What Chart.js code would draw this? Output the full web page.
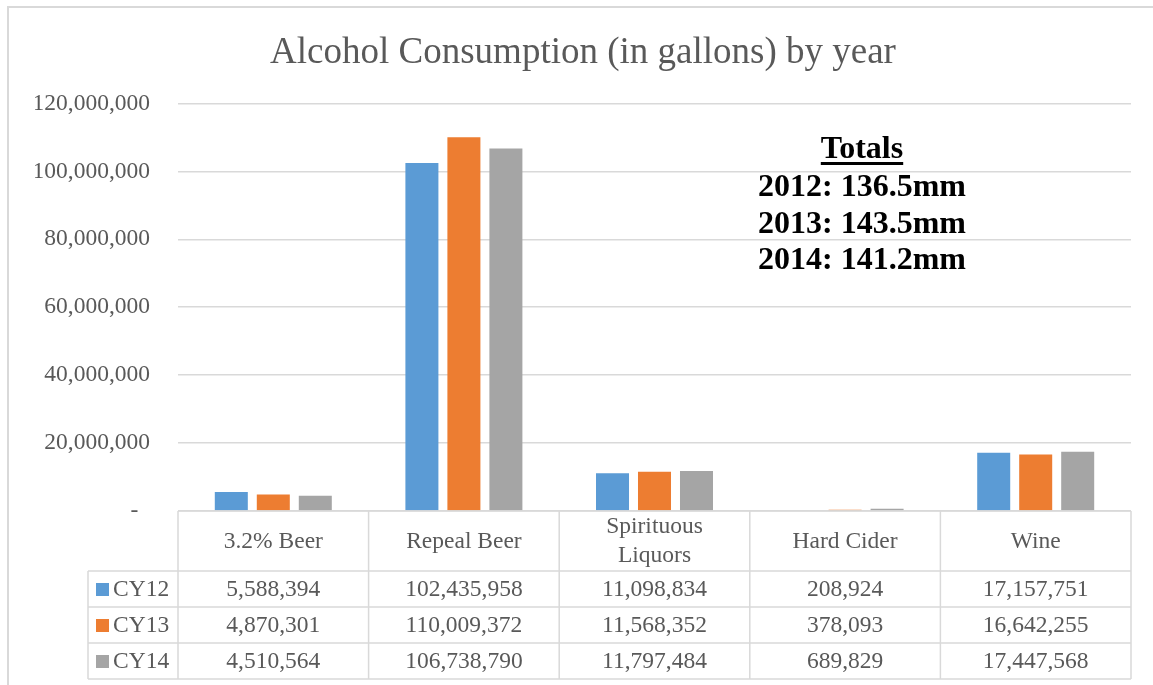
<!DOCTYPE html>
<html>
<head>
<meta charset="utf-8">
<script src="https://cdn.jsdelivr.net/npm/chart.js@4.4.1/dist/chart.umd.min.js"></script>
<style>
  body { margin: 0; background: #fff; }
  canvas { display: block; }
</style>
</head>
<body>
<canvas id="alcoholChart" width="1153" height="685"></canvas>
<script>
var categories = ["3.2% Beer", "Repeal Beer", ["Spirituous", "Liquors"], "Hard Cider", "Wine"];
var seriesNames = ["CY12", "CY13", "CY14"];
var cy12 = [5588394, 102435958, 11098834, 208924, 17157751];
var cy13 = [4870301, 110009372, 11568352, 378093, 16642255];
var cy14 = [4510564, 106738790, 11797484, 689829, 17447568];
var seriesColors = ["#5B9BD5", "#ED7D31", "#A5A5A5"];
var totalsTitle = "Totals";
var totalsLines = ["2012: 136.5mm", "2013: 143.5mm", "2014: 141.2mm"];

var serif = "'Liberation Serif', 'Times New Roman', serif";
var textGrey = "#595959";
var lineGrey = "#d9d9d9";

function fmt(v) {
    return v.toLocaleString("en-US");
}

// chart border + white background
var chartFrame = {
    id: "chartFrame",
    beforeDraw: function (chart) {
        var ctx = chart.ctx;
        ctx.save();
        ctx.fillStyle = "#fff";
        ctx.fillRect(0, 0, chart.width, chart.height);
        ctx.strokeStyle = lineGrey;
        ctx.lineWidth = 2;
        ctx.strokeRect(8, 7, chart.width + 20, chart.height + 20);
        ctx.restore();
    },
};

// Excel style data table under the plot area
var dataTable = {
    id: "dataTable",
    afterDraw: function (chart) {
        var ctx = chart.ctx;
        var xs = chart.scales.x;
        var area = chart.chartArea;
        var n = categories.length;
        var step = xs.getPixelForValue(1) - xs.getPixelForValue(0);
        var headerH = 60, rowH = 36, legendLeft = 88;
        var top = area.bottom;
        var rowsTop = top + headerH;
        var bottom = rowsTop + rowH * seriesNames.length;
        var data = [cy12, cy13, cy14];

        ctx.save();
        ctx.strokeStyle = lineGrey;
        ctx.lineWidth = 1.5;
        ctx.beginPath();
        ctx.moveTo(area.left, top);
        ctx.lineTo(area.right, top);
        for (var r = 0; r <= seriesNames.length; r++) {
            ctx.moveTo(legendLeft, rowsTop + r * rowH);
            ctx.lineTo(area.right, rowsTop + r * rowH);
        }
        ctx.moveTo(legendLeft, rowsTop);
        ctx.lineTo(legendLeft, bottom);
        for (var i = 0; i <= n; i++) {
            var bx = i < n ? xs.getPixelForValue(i) - step / 2 : area.right;
            ctx.moveTo(bx, top);
            ctx.lineTo(bx, bottom);
        }
        ctx.stroke();

        ctx.fillStyle = textGrey;
        ctx.font = "23.5px " + serif;
        ctx.textAlign = "center";
        ctx.textBaseline = "middle";
        for (var c = 0; c < n; c++) {
            var cx = xs.getPixelForValue(c);
            var lab = categories[c];
            if (Array.isArray(lab)) {
                ctx.fillText(lab[0], cx, top + 16);
                ctx.fillText(lab[1], cx, top + 45);
            } else {
                ctx.fillText(lab, cx, top + headerH / 2 + 1);
            }
            for (var s = 0; s < seriesNames.length; s++) {
                ctx.fillText(fmt(data[s][c]), cx, rowsTop + s * rowH + rowH / 2 + 1);
            }
        }

        ctx.textAlign = "left";
        for (var k = 0; k < seriesNames.length; k++) {
            var cy = rowsTop + k * rowH + rowH / 2;
            ctx.fillStyle = seriesColors[k];
            ctx.fillRect(96, cy - 6, 13, 13);
            ctx.fillStyle = textGrey;
            ctx.fillText(seriesNames[k], 113, cy + 1);
        }
        ctx.restore();
    },
};

// totals text box on top of the plot
var totalsBox = {
    id: "totalsBox",
    afterDraw: function (chart) {
        var ctx = chart.ctx;
        var cx = 862;
        ctx.save();
        ctx.fillStyle = "#000";
        ctx.textAlign = "center";
        ctx.textBaseline = "alphabetic";
        ctx.font = "bold 32px " + serif;
        ctx.fillText(totalsTitle, cx, 158);
        var w = ctx.measureText(totalsTitle).width;
        ctx.fillRect(cx - w / 2, 162, w, 3);
        for (var i = 0; i < totalsLines.length; i++) {
            ctx.fillText(totalsLines[i], cx, 196 + i * 36.5);
        }
        ctx.restore();
    },
};

var datasets = [cy12, cy13, cy14].map(function (vals, i) {
    return {
        label: seriesNames[i],
        data: vals,
        backgroundColor: seriesColors[i],
        borderWidth: 0,
        categoryPercentage: 0.661,
        barPercentage: 0.786,
    };
});

var ctx = document.getElementById("alcoholChart").getContext("2d");

new Chart(ctx, {
    type: "bar",
    data: {
        labels: categories,
        datasets: datasets,
    },
    plugins: [chartFrame, dataTable, totalsBox],
    options: {
        responsive: false,
        animation: false,
        layout: {
            padding: { left: 35, right: 22, top: 0, bottom: 174 },
        },
        scales: {
            x: {
                display: false,
            },
            y: {
                min: 0,
                max: 120000000,
                border: { display: false },
                grid: {
                    color: lineGrey,
                    lineWidth: 1.5,
                    drawTicks: false,
                },
                ticks: {
                    stepSize: 20000000,
                    padding: 28,
                    color: textGrey,
                    font: { family: serif, size: 23.5 },
                    callback: function (v) {
                        return v === 0 ? "-  " : fmt(v);
                    },
                },
                afterFit: function (scale) {
                    scale.width = 143;
                    scale.paddingTop = 0;
                    scale.paddingBottom = 0;
                },
            },
        },
        plugins: {
            legend: { display: false },
            tooltip: { enabled: false },
            title: {
                display: true,
                text: "Alcohol Consumption (in gallons) by year",
                color: textGrey,
                font: { family: serif, size: 37, weight: "normal" },
                padding: { top: 31, bottom: 28 },
            },
        },
    },
});
</script>
</body>
</html>
